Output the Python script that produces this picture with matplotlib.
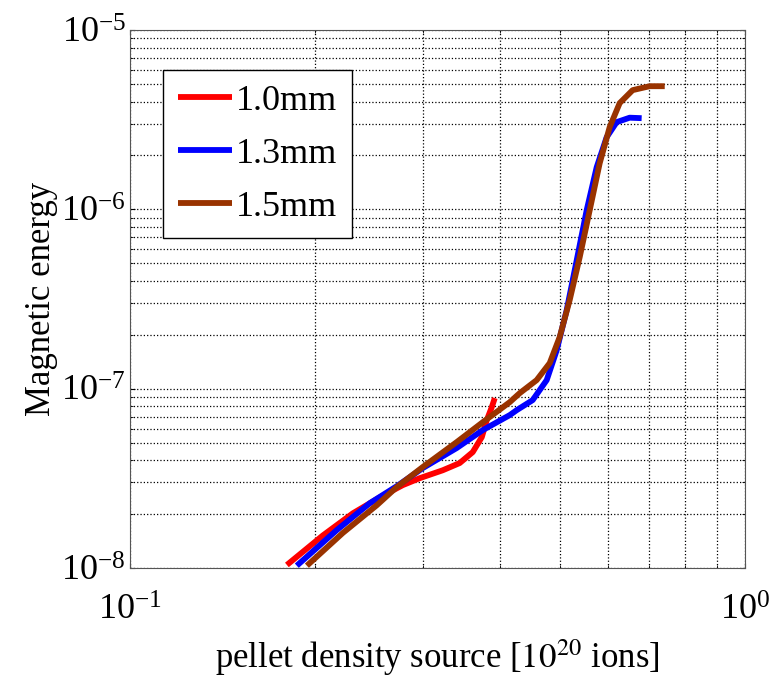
import matplotlib.pyplot as plt
from matplotlib.ticker import NullFormatter

plt.rcParams['font.family'] = ['Liberation Serif', 'DejaVu Serif']
plt.rcParams['mathtext.fontset'] = 'stix'

# data (log-log)
x_10 = [0.1800, 0.2060, 0.2305, 0.2550, 0.2779, 0.2961, 0.3228, 0.3439, 0.3611, 0.3736,
        0.3806, 0.3878, 0.3922]
y_10 = [1.04e-8, 1.52e-8, 2.02e-8, 2.48e-8, 2.90e-8, 3.17e-8, 3.51e-8, 3.85e-8, 4.43e-8, 5.37e-8,
        6.68e-8, 7.89e-8, 8.87e-8]

x_13 = [0.1868, 0.2171, 0.2456, 0.2717, 0.2995, 0.3401, 0.3750, 0.4149, 0.4259, 0.4520,
        0.4764, 0.4946, 0.5134, 0.5331, 0.5534, 0.5745, 0.5964, 0.6192, 0.6501, 0.6799]
y_13 = [1.03e-8, 1.63e-8, 2.30e-8, 2.86e-8, 3.61e-8, 4.67e-8, 5.88e-8, 7.13e-8, 7.60e-8, 8.64e-8,
        1.117e-7, 1.64e-7, 2.74e-7, 5.21e-7, 9.91e-7, 1.72e-6, 2.53e-6, 3.07e-6, 3.25e-6, 3.23e-6]

x_15 = [0.1940, 0.2220, 0.2521, 0.2717, 0.2995, 0.3401, 0.3750, 0.4149, 0.4306, 0.4588,
        0.4818, 0.5001, 0.5192, 0.5391, 0.5597, 0.5810, 0.6032, 0.6262, 0.6574, 0.7006, 0.7413]
y_15 = [1.03e-8, 1.57e-8, 2.24e-8, 2.83e-8, 3.66e-8, 5.04e-8, 6.51e-8, 8.42e-8, 9.45e-8, 1.117e-7,
        1.39e-7, 1.94e-7, 3.12e-7, 5.42e-7, 9.91e-7, 1.81e-6, 2.88e-6, 3.92e-6, 4.63e-6, 4.87e-6, 4.87e-6]

fig = plt.figure(figsize=(7.83, 6.86), dpi=100)
ax = fig.add_axes([0.166, 0.172, 0.785, 0.784])

kw = dict(lw=4.2, solid_joinstyle='round', solid_capstyle='butt')
ax.plot(x_10, y_10, color='#ff0000', label='1.0mm', **kw)
ax.plot(x_13, y_13, color='#0000ff', label='1.3mm', **kw)
ax.plot(x_15, y_15, color='#993300', label='1.5mm', **kw)

ax.set_xscale('log')
ax.set_yscale('log')
ax.set_xlim(0.1, 1)
ax.set_ylim(1e-8, 1e-5)
ax.xaxis.set_minor_formatter(NullFormatter())
ax.yaxis.set_minor_formatter(NullFormatter())

ax.grid(True, which='both', linestyle=':', color='black', lw=0.9)
ax.tick_params(which='both', direction='in', top=True, right=True, labelsize=26)
ax.tick_params(axis='x', pad=19)
ax.tick_params(axis='y', pad=3)
for s in ax.spines.values():
    s.set_color('#555555')

ax.set_xlabel(r'pellet density source [$10^{20}$ ions]', fontsize=25, labelpad=7)
ax.set_ylabel('Magnetic energy', fontsize=25, labelpad=2)

leg = ax.legend(loc='upper left', bbox_to_anchor=(0.054, 0.926), borderaxespad=0,
                fontsize=26, fancybox=False, framealpha=1, edgecolor='black',
                handlelength=1.5, handletextpad=0.12, borderpad=0.4, labelspacing=0.55)
leg.get_frame().set_linewidth(1.0)

fig.savefig('out.png')
